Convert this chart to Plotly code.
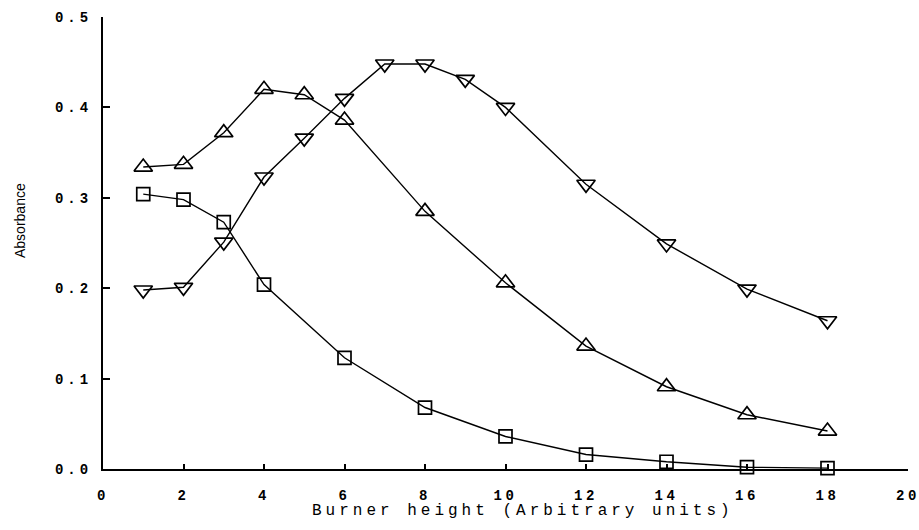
import plotly.graph_objects as go

# Data
x_square = [1, 2, 3, 4, 6, 8, 10, 12, 14, 16, 18]
y_square = [0.304, 0.298, 0.273, 0.204, 0.123, 0.068, 0.036, 0.016, 0.008, 0.002, 0.001]

x_up = [1, 2, 3, 4, 5, 6, 8, 10, 12, 14, 16, 18]
y_up = [0.334, 0.337, 0.372, 0.420, 0.414, 0.386, 0.285, 0.206, 0.136, 0.091, 0.060, 0.042]

x_down = [1, 2, 3, 4, 5, 6, 7, 8, 9, 10, 12, 14, 16, 18]
y_down = [0.198, 0.201, 0.251, 0.323, 0.366, 0.410, 0.448, 0.448, 0.431, 0.400, 0.315, 0.249, 0.199, 0.164]

x_tickvals = [0, 2, 4, 6, 8, 10, 12, 14, 16, 18, 20]
x_ticklabels = ["0", "2", "4", "6", "8", "10", "12", "14", "16", "18", "20"]
y_tickvals = [0.0, 0.1, 0.2, 0.3, 0.4, 0.5]
y_ticklabels = ["0.0", "0.1", "0.2", "0.3", "0.4", "0.5"]

x_title = "Burner height (Arbitrary units)"
y_title = "Absorbance"

def spaced(t, ls):
    return '<span style="letter-spacing:%spx">%s</span>' % (ls, t)

fig = go.Figure()
line_style = dict(color="black", width=1.4)
fig.add_trace(go.Scatter(x=x_square, y=y_square, mode="lines+markers", line=line_style,
                         marker=dict(symbol="square-open", size=13, color="black", line=dict(width=1.7)),
                         cliponaxis=False, showlegend=False))
fig.add_trace(go.Scatter(x=x_up, y=y_up, mode="lines+markers", line=line_style,
                         marker=dict(symbol="triangle-up-open", size=16, color="black", line=dict(width=1.7)),
                         cliponaxis=False, showlegend=False))
fig.add_trace(go.Scatter(x=x_down, y=y_down, mode="lines+markers", line=line_style,
                         marker=dict(symbol="triangle-down-open", size=16, color="black", line=dict(width=1.7)),
                         cliponaxis=False, showlegend=False))

tick_font = dict(family="Liberation Mono", size=14, color="black", weight="bold")

fig.update_layout(
    width=919, height=530,
    margin=dict(l=103, r=11, t=17, b=61, autoexpand=False),
    paper_bgcolor="white", plot_bgcolor="white",
    font=dict(family="Liberation Sans", color="black"),
    xaxis=dict(range=[0, 20], tickvals=x_tickvals,
               ticktext=[spaced(t, 3.5) for t in x_ticklabels],
               ticks="inside", ticklen=5, tickwidth=1.5, tickcolor="black",
               ticklabelstandoff=12, ticklabeloverflow="allow", automargin=False,
               showline=True, linecolor="black", linewidth=2,
               showgrid=False, zeroline=False, tickfont=tick_font),
    yaxis=dict(range=[0, 0.5], tickvals=y_tickvals,
               ticktext=[spaced(t, 4) for t in y_ticklabels],
               ticks="inside", ticklen=7, tickwidth=1.5, tickcolor="black",
               ticklabelstandoff=6, automargin=False,
               showline=True, linecolor="black", linewidth=2,
               showgrid=False, zeroline=False, tickfont=tick_font),
)

fig.add_annotation(text=spaced(x_title, 4.0), xref="paper", yref="paper",
                   x=(523 - 103) / 805, y=0, yshift=-42, xanchor="center", yanchor="middle",
                   showarrow=False, font=dict(family="Liberation Mono", size=16, color="black"))
fig.add_annotation(text=y_title, xref="paper", yref="paper",
                   x=(20 - 103) / 805, y=0.5, yshift=22, xanchor="center", yanchor="middle",
                   textangle=-90, showarrow=False,
                   font=dict(family="Liberation Sans", size=14, color="black"))

fig.write_html("out.html")
